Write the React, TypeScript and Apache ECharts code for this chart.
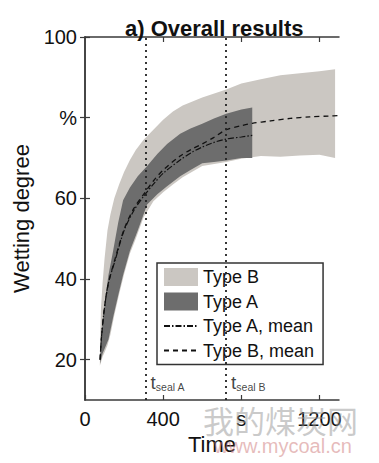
import React, { useEffect, useRef } from "react";
import * as echarts from "echarts";

const FONT = '"Liberation Sans", Arial, Helvetica, sans-serif';

const xTicks = [0, 400, 800, 1200];
const xTickLabels = ["0", "400", "s", "1200"];
const yTicks = [20, 40, 60, 80, 100];
const yTickLabels = ["20", "40", "60", "%", "100"];

// Type B band (light)
const bTime = [76, 78, 82, 90, 100, 115, 130, 150, 175, 200, 230, 260, 300, 350, 400, 450, 500, 600, 723, 800, 900, 1000, 1100, 1200, 1280];
const bUpper = [19, 26, 33, 39, 45, 52, 56, 60, 63.5, 66.5, 69.5, 72, 74.5, 77, 79.5, 81.5, 83, 85, 87, 88.5, 89.5, 90.5, 91, 91.5, 92];
const bLower = [18.5, 18.8, 19.4, 20.7, 21.8, 23.6, 26.2, 31, 36.3, 41.2, 46.3, 50, 55.3, 59.3, 61.5, 63.4, 65.2, 68, 69, 69.8, 70.5, 70.3, 70.6, 70.8, 70];

// Type A band (dark)
const aTime = [77, 82, 90, 103, 120, 144, 170, 195, 230, 270, 318, 370, 420, 487, 540, 600, 660, 723, 800, 856];
const aUpper = [19, 25, 29, 35, 41, 47, 54, 59.5, 62.7, 65.5, 68, 71, 73.5, 76, 77.3, 78.5, 79.8, 81, 82, 82.5];
const aLower = [19, 20, 21.5, 23, 25, 30.5, 36, 41, 47, 52, 58.5, 61, 63, 65.5, 67, 68.7, 69, 69.4, 70, 70];

// Means
const meanATime = [77, 85, 100, 120, 154, 200, 250, 300, 350, 400, 487, 550, 600, 656, 723, 800, 856];
const meanA = [20, 26, 33, 39, 44.6, 52, 57, 60.5, 63.5, 66.2, 69.5, 71.5, 72.7, 73.8, 74.7, 75.2, 75.6];
const meanBTime = [77, 85, 100, 120, 154, 200, 250, 300, 350, 400, 487, 550, 600, 656, 723, 800, 856, 950, 1050, 1150, 1250, 1300];
const meanB = [20, 26, 33, 39, 45, 52.3, 57.5, 61, 64.3, 67, 70.5, 72.3, 73.5, 75, 77, 78, 78.6, 79.2, 79.8, 80.2, 80.4, 80.5];

const sealTimes = [310, 722];
const sealLabels = ["seal A", "seal B"];

const LIGHT = "#cbc7c2";
const DARK = "#6d6d6d";

function bandSeries(name: string, t: number[], up: number[], lo: number[], color: string) {
  return {
    name,
    type: "custom",
    xAxisIndex: 0,
    yAxisIndex: 0,
    itemStyle: { color },
    data: [[t[0], lo[0]]],
    renderItem: (_params: any, api: any) => {
      const pts: number[][] = [];
      for (let i = 0; i < t.length; i++) pts.push(api.coord([t[i], up[i]]));
      for (let i = t.length - 1; i >= 0; i--) pts.push(api.coord([t[i], lo[i]]));
      return { type: "polygon", shape: { points: pts }, style: { fill: color } };
    },
  };
}

export default function App() {
  const ref = useRef<HTMLDivElement>(null);
  useEffect(() => {
    document.body.style.margin = "0";
    const chart = echarts.init(ref.current!, undefined, { renderer: "svg" });
    const axisLine = { show: true, lineStyle: { color: "#3a3a3a", width: 1.5 } };
    const tickStyle = { inside: true, length: 5, lineStyle: { color: "#3a3a3a", width: 1.2 } };
    const hiddenSymbol = { color: "rgba(0,0,0,0)", opacity: 0, borderWidth: 0 };
    chart.setOption({
      animation: false,
      backgroundColor: "#fff",
      textStyle: { fontFamily: FONT },
      title: {
        text: "a) Overall results",
        left: 120,
        top: 12,
        textStyle: { fontSize: 22, fontWeight: "bold", color: "#111", fontFamily: FONT },
      },
      grid: { left: 85, right: 40, top: 37, bottom: 63 },
      legend: {
        orient: "vertical",
        left: 157,
        top: 263,
        itemWidth: 34,
        itemHeight: 18,
        itemGap: 6.5,
        padding: [5, 9, 5, 6],
        borderColor: "#333",
        borderWidth: 1.5,
        backgroundColor: "#fff",
        selectedMode: false,
        textStyle: { fontSize: 18, color: "#111", fontFamily: FONT },
        data: [
          { name: "Type B", icon: "rect", itemStyle: { color: LIGHT } },
          { name: "Type A", icon: "rect", itemStyle: { color: DARK } },
          { name: "Type A, mean", itemStyle: hiddenSymbol },
          { name: "Type B, mean", itemStyle: hiddenSymbol },
        ],
      },
      xAxis: [
        {
          type: "value",
          min: 0,
          max: 1300,
          position: "bottom",
          axisLine,
          splitLine: { show: false },
          axisTick: { ...tickStyle, customValues: xTicks },
          axisLabel: {
            customValues: xTicks,
            formatter: (v: number) => xTickLabels[xTicks.indexOf(v)] ?? "",
            fontSize: 20,
            margin: 9,
            color: "#111",
            fontFamily: FONT,
          },
          name: "Time",
          nameLocation: "middle",
          nameGap: 32,
          nameTextStyle: { fontSize: 22, color: "#111", fontFamily: FONT },
        },
        {
          type: "value",
          min: 0,
          max: 1300,
          position: "top",
          axisLine,
          splitLine: { show: false },
          axisTick: { ...tickStyle, customValues: xTicks.slice(1) },
          axisLabel: { show: false },
        },
      ],
      yAxis: [
        {
          type: "value",
          min: 10,
          max: 100,
          position: "left",
          axisLine,
          splitLine: { show: false },
          axisTick: { ...tickStyle, customValues: yTicks },
          axisLabel: {
            customValues: yTicks,
            formatter: (v: number) => yTickLabels[yTicks.indexOf(v)] ?? "",
            fontSize: 20,
            margin: 8,
            color: "#111",
            fontFamily: FONT,
          },
          name: "Wetting degree",
          nameLocation: "middle",
          nameGap: 40,
          nameTextStyle: { fontSize: 22, color: "#111", fontFamily: FONT },
        },
        {
          type: "value",
          min: 10,
          max: 100,
          position: "right",
          axisLine,
          splitLine: { show: false },
          axisTick: { ...tickStyle, customValues: yTicks },
          axisLabel: { show: false },
        },
      ],
      series: [
        bandSeries("Type B", bTime, bUpper, bLower, LIGHT),
        bandSeries("Type A", aTime, aUpper, aLower, DARK),
        {
          name: "Type A, mean",
          type: "line",
          symbol: "none",
          smooth: 0.3,
          xAxisIndex: 0,
          yAxisIndex: 0,
          lineStyle: { color: "#111", width: 1.2, type: [6, 2, 1.5, 2] },
          itemStyle: { color: "#111" },
          data: meanATime.map((t, i) => [t, meanA[i]]),
        },
        {
          name: "Type B, mean",
          type: "line",
          symbol: "none",
          smooth: 0.3,
          xAxisIndex: 0,
          yAxisIndex: 0,
          lineStyle: { color: "#111", width: 1.3, type: [5, 4] },
          itemStyle: { color: "#111" },
          data: meanBTime.map((t, i) => [t, meanB[i]]),
          markLine: {
            silent: true,
            symbol: ["none", "none"],
            label: { show: false },
            lineStyle: { color: "#222", width: 1.8, type: [2, 4] },
            data: sealTimes.map((x) => ({ xAxis: x })),
          },
        },
        {
          name: "seal",
          type: "scatter",
          symbolSize: 0,
          silent: true,
          xAxisIndex: 0,
          yAxisIndex: 0,
          itemStyle: { color: "#111" },
          data: sealTimes.map((t) => [t, 14.3]),
          label: {
            show: true,
            position: "right",
            distance: 5,
            color: "#111",
            formatter: (p: any) => `{t|t}{s|${sealLabels[p.dataIndex]}}`,
            rich: {
              t: { fontSize: 19, color: "#111", fontFamily: FONT, verticalAlign: "bottom" },
              s: { fontSize: 10.5, color: "#111", fontFamily: FONT, verticalAlign: "bottom" },
            },
          },
        },
      ],
      graphic: [
        {
          type: "text",
          left: 203,
          top: 404,
          z: 100,
          silent: true,
          style: { text: "我的煤炭网", font: '31px "Noto Sans CJK SC"', fill: "rgba(150,150,150,0.5)" },
        },
        {
          type: "text",
          left: 214,
          top: 436,
          z: 100,
          silent: true,
          style: { text: "www.mycoal.cn", font: '20px "Liberation Sans"', fill: "rgba(205,120,120,0.5)" },
        },
      ],
    });
    return () => chart.dispose();
  }, []);
  return <div ref={ref} style={{ width: 379, height: 463 }} />;
}
